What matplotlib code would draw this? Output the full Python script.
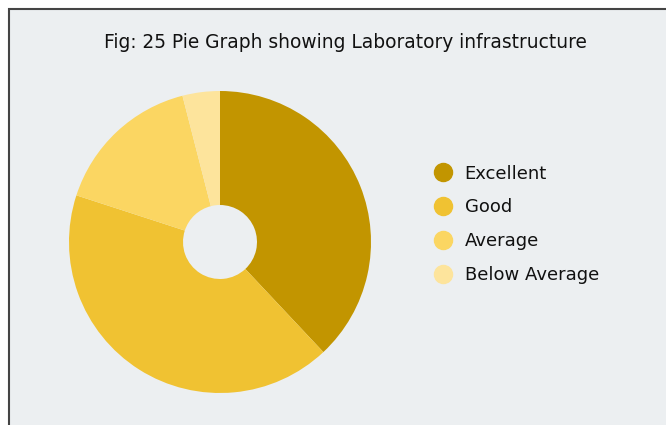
import matplotlib
matplotlib.use("Agg")
import matplotlib.pyplot as plt
from matplotlib.patches import Rectangle
from matplotlib.lines import Line2D

categories = ["Excellent", "Good", "Average", "Below Average"]
values = [38, 42, 16, 4]
colors = ["#C29500", "#F0C232", "#FBD662", "#FDE49C"]
title = "Fig: 25 Pie Graph showing Laboratory infrastructure"

W, H = 666, 425
fig = plt.figure(figsize=(W / 100, H / 100), dpi=100)
fig.patch.set_facecolor("white")

# panel background with border
panel = Rectangle((9 / W, -0.1), 1.2, (H - 9) / H + 0.1, transform=fig.transFigure,
                  facecolor="#ECEFF1", edgecolor="#444444", linewidth=1.5, zorder=-5)
fig.patches.append(panel)

fig.text(345 / W, 1 - 42 / H, title, ha="center", va="center", fontsize=13.4,
         family="DejaVu Sans", color="#111111")

cx, cy, r = 220, 242, 151
ax = fig.add_axes([(cx - r) / W, (H - cy - r) / H, 2 * r / W, 2 * r / H])
ax.set_zorder(2)
ax.set_facecolor("none")
ax.pie(values, colors=colors, startangle=90, counterclock=False,
       wedgeprops=dict(width=0.755, edgecolor="none"))
ax.set_xlim(-1, 1)
ax.set_ylim(-1, 1)
ax.set_axis_off()

handles = [Line2D([], [], marker="o", linestyle="none", markersize=13,
                  markerfacecolor=c, markeredgecolor=c) for c in colors]
leg = fig.legend(handles, categories, loc="upper left",
                 bbox_to_anchor=(416 / W, 1 - 148.5 / H), frameon=False,
                 fontsize=13, labelspacing=0.87, handletextpad=0.6,
                 handlelength=1.2)
leg.set_zorder(3)
for t in leg.get_texts():
    t.set_color("#111111")

fig.savefig("out.png", dpi=100, facecolor=fig.get_facecolor())
